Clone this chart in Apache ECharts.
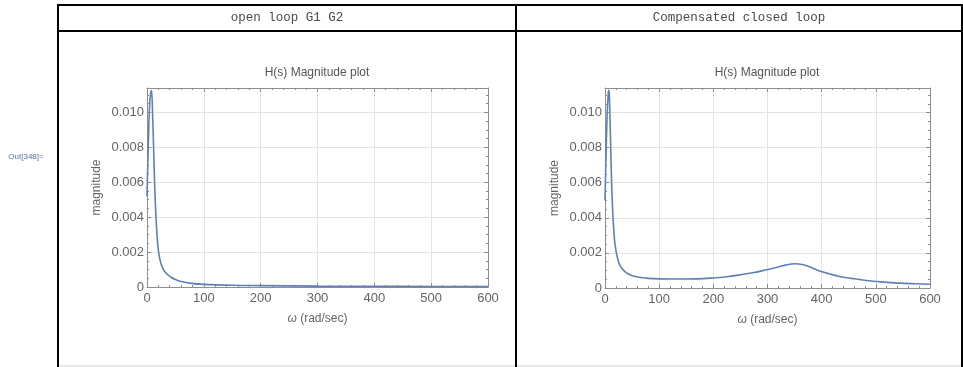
<!DOCTYPE html>
<html>
<head>
<meta charset="utf-8">
<script src="https://cdn.jsdelivr.net/npm/echarts@6/dist/echarts.min.js"></script>
<style>
  html, body { margin: 0; padding: 0; background: #fff; }
  #chart { width: 963px; height: 367px; }
</style>
</head>
<body>
<div id="chart"></div>
<script>
// values
const panelTitles = ['open loop G1 G2', 'Compensated closed loop']
const plotTitle = 'H(s) Magnitude plot'
const xTicks = [0, 100, 200, 300, 400, 500, 600]
const yTicks = [0, 0.002, 0.004, 0.006, 0.008, 0.010]

const openOmega = [0, 2, 4, 6, 8, 10, 11, 12, 13.4, 15, 16, 17, 18, 19, 20, 22, 24, 26, 29, 32, 35, 42, 50, 60, 78, 100, 150, 200, 300, 400, 500, 600]
const openMag = [0.0052, 0.0078, 0.0100, 0.0110, 0.01125, 0.0097, 0.0087, 0.0075, 0.0059, 0.0046, 0.0039, 0.0033, 0.0028, 0.0024, 0.0021, 0.0017, 0.00142, 0.00122, 0.00100, 0.00086, 0.00075, 0.00056, 0.00043, 0.00032, 0.00021, 0.00015, 0.0001, 0.00008, 0.00005, 0.00004, 0.00003, 0.00002]

const closedOmega = [0, 2, 4, 6, 7, 8, 10, 12.3, 14.8, 16.5, 18, 19.5, 21, 24, 27, 32, 39, 48, 58, 70, 79, 100, 150, 200, 225, 249, 275, 298, 320, 335, 350, 366, 380, 396, 415, 433, 455, 482, 510, 544, 575, 600]
const closedMag = [0.0050, 0.0077, 0.0099, 0.0111, 0.01127, 0.0110, 0.0087, 0.0059, 0.0040, 0.0032, 0.0026, 0.0023, 0.0020, 0.0016, 0.00133, 0.00108, 0.00088, 0.00073, 0.00064, 0.00058, 0.00055, 0.00052, 0.00051, 0.00057, 0.00064, 0.00075, 0.00088, 0.00104, 0.0012, 0.00132, 0.00138, 0.00133, 0.00118, 0.00097, 0.0008, 0.00066, 0.00055, 0.00043, 0.00035, 0.00028, 0.00024, 0.00021]

const chart = echarts.init(document.getElementById('chart'))

const sans = '"Liberation Sans", Arial, sans-serif'
const mono = '"Liberation Mono", "DejaVu Sans Mono", monospace'
const frameColor = '#8e8e8e'
const labelColor = '#646464'

const grids = [
    { left: 147, top: 88, width: 341, height: 199 },
    { left: 605, top: 88, width: 325, height: 200 }
]

function xAxisFor(gridIndex, top) {
    return {
        type: 'value',
        gridIndex: gridIndex,
        position: top ? 'top' : 'bottom',
        min: xTicks[0],
        max: xTicks[xTicks.length - 1],
        interval: 100,
        name: top ? '' : '{it|ω} (rad/sec)',
        nameLocation: 'middle',
        nameGap: 26,
        nameTextStyle: {
            color: labelColor, fontFamily: sans, fontSize: 12,
            rich: { it: { fontStyle: 'italic', fontSize: 12, fontFamily: sans, color: labelColor } }
        },
        axisLine: { show: true, onZero: false, lineStyle: { color: frameColor, width: 1 } },
        axisTick: { show: true, inside: true, length: 4, lineStyle: { color: frameColor } },
        minorTick: { show: true, splitNumber: 5, length: 2, lineStyle: { color: frameColor } },
        axisLabel: {
            show: !top, color: labelColor, fontFamily: sans, fontSize: 13, margin: 5
        },
        splitLine: { show: !top, lineStyle: { color: '#e3e3e3', width: 1 } }
    }
}

function yAxisFor(gridIndex, right) {
    return {
        type: 'value',
        gridIndex: gridIndex,
        position: right ? 'right' : 'left',
        min: yTicks[0],
        max: 0.0114,
        interval: 0.002,
        name: right ? '' : 'magnitude',
        nameLocation: 'middle',
        nameGap: 44,
        nameTextStyle: { color: labelColor, fontFamily: sans, fontSize: 12 },
        axisLine: { show: true, onZero: false, lineStyle: { color: frameColor, width: 1 } },
        axisTick: { show: true, inside: true, length: 4, lineStyle: { color: frameColor } },
        minorTick: { show: true, splitNumber: 4, length: 2, lineStyle: { color: frameColor } },
        axisLabel: {
            show: !right, color: labelColor, fontFamily: sans, fontSize: 13, margin: 3,
            showMaxLabel: false,
            formatter: v => (v === 0 ? '0' : v.toFixed(3))
        },
        splitLine: { show: !right, lineStyle: { color: '#e3e3e3', width: 1 } }
    }
}

function curve(index, xs, ys) {
    return {
        type: 'line',
        xAxisIndex: index * 2,
        yAxisIndex: index * 2,
        data: xs.map((x, i) => [x, ys[i]]),
        smooth: 0.35,
        showSymbol: false,
        lineStyle: { color: '#5e81b5', width: 1.6 },
        z: 5
    }
}

const option = {
    backgroundColor: '#fff',
    animation: false,
    grid: grids,
    xAxis: [xAxisFor(0, false), xAxisFor(0, true), xAxisFor(1, false), xAxisFor(1, true)],
    yAxis: [yAxisFor(0, false), yAxisFor(0, true), yAxisFor(1, false), yAxisFor(1, true)],
    series: [
        curve(0, openOmega, openMag),
        curve(1, closedOmega, closedMag)
    ],
    graphic: [
        // notebook table frame
        { type: 'line', shape: { x1: 58, y1: 366, x2: 962, y2: 366 },
          style: { stroke: '#d0d0d0', lineWidth: 1 }, silent: true },
        { type: 'rect', shape: { x: 58, y: 5, width: 904, height: 370 },
          style: { fill: 'none', stroke: '#000', lineWidth: 2 }, silent: true },
        { type: 'line', shape: { x1: 58, y1: 31, x2: 962, y2: 31 },
          style: { stroke: '#000', lineWidth: 2 }, silent: true },
        { type: 'line', shape: { x1: 516, y1: 5, x2: 516, y2: 367 },
          style: { stroke: '#000', lineWidth: 2 }, silent: true },
        { type: 'text', x: 287, y: 18, style: {
            text: panelTitles[0], fill: '#4a4a4a', font: '12.5px ' + mono,
            textAlign: 'center', textVerticalAlign: 'middle' } },
        { type: 'text', x: 739, y: 18, style: {
            text: panelTitles[1], fill: '#4a4a4a', font: '12.5px ' + mono,
            textAlign: 'center', textVerticalAlign: 'middle' } },
        { type: 'text', x: 317, y: 73, style: {
            text: plotTitle, fill: '#555', font: '12px ' + sans,
            textAlign: 'center', textVerticalAlign: 'middle' } },
        { type: 'text', x: 767, y: 73, style: {
            text: plotTitle, fill: '#555', font: '12px ' + sans,
            textAlign: 'center', textVerticalAlign: 'middle' } },
        { type: 'text', x: 26, y: 157, style: {
            text: 'Out[348]=', fill: '#5a73a8', font: '8px ' + sans,
            textAlign: 'center', textVerticalAlign: 'middle' } }
    ]
}

chart.setOption(option)
</script>
</body>
</html>
